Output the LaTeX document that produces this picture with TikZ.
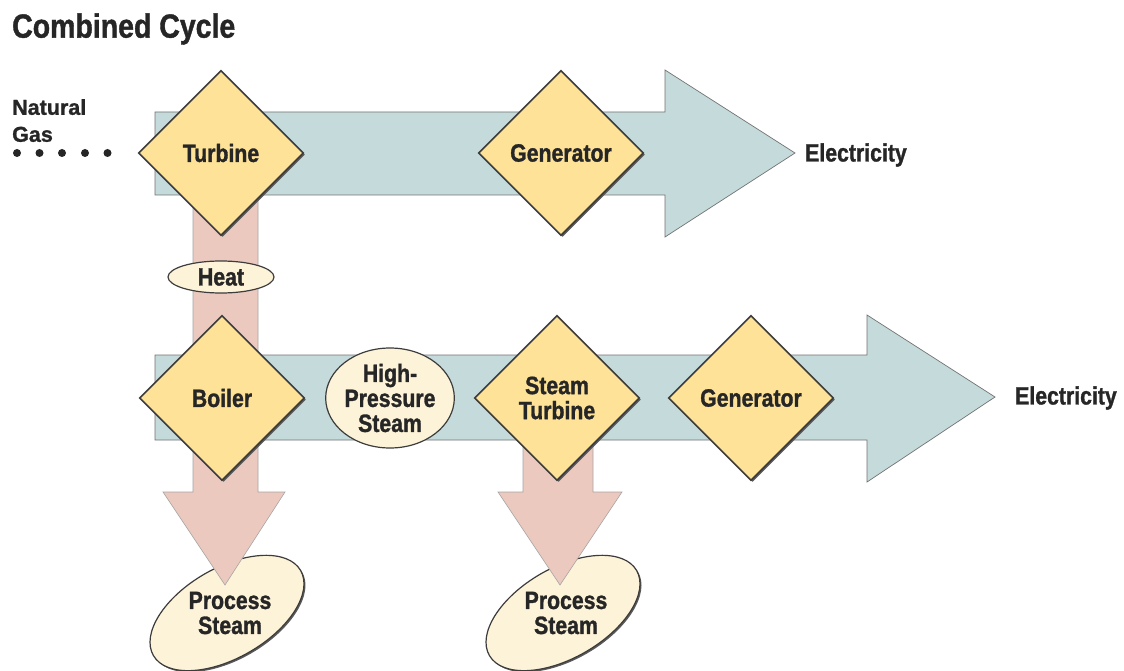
\documentclass[tikz,border=0pt]{standalone}
\usepackage{fontspec}
\setmainfont{Liberation Sans}[FakeStretch=0.85, BoldFeatures={FakeBold=1.2}]
\newfontfamily\gasfont{Liberation Sans}[FakeStretch=1.0, BoldFeatures={FakeBold=1.2}]
\usetikzlibrary{shapes.geometric,shadows}
\definecolor{steel}{RGB}{197,218,218}
\definecolor{salmon}{RGB}{236,201,190}
\definecolor{gold}{RGB}{253,226,152}
\definecolor{cream}{RGB}{253,243,216}
\definecolor{edge}{RGB}{60,60,60}
\begin{document}
\begin{tikzpicture}[x=1pt,y=-1pt,
  lab/.style={font=\bfseries\fontsize{25}{25}\selectfont, text=black!85, align=center},
  unit/.style={diamond, draw=edge, line width=1.6pt, fill=gold, minimum width=165pt, minimum height=165pt, inner sep=0pt, lab,
    drop shadow={shadow xshift=1.6pt, shadow yshift=-1.6pt, fill=black!65, opacity=1}},
  blob/.style={ellipse, draw=edge, line width=1.2pt, fill=cream, inner sep=0pt},
  bluearrow/.style={fill=steel, draw=black!55, line width=0.7pt, line join=miter},
  pinkarrow/.style={fill=salmon, draw=black!35, line width=0.6pt, line join=miter},
]
\useasboundingbox (0,0) rectangle (1124,671);
\fill[white] (0,0) rectangle (1124,671);

% title
\node[anchor=west, font=\bfseries\fontsize{33.5}{34}\selectfont, text=black!85, inner sep=0pt] (title) at (12,29) {Combined Cycle};

% process steam ellipses (under the pink arrows)
\node[blob, minimum width=170pt, minimum height=90pt, rotate=30,
  drop shadow={shadow xshift=1.5pt, shadow yshift=-1.5pt, fill=black!65, opacity=1}] (ps1) at (227,613) {};
\node[blob, minimum width=170pt, minimum height=90pt, rotate=30,
  drop shadow={shadow xshift=1.5pt, shadow yshift=-1.5pt, fill=black!65, opacity=1}] (ps2) at (563,613) {};

% pink heat / steam arrows
\path[pinkarrow] (193,153) -- (193,492) -- (163,492) -- (225,585) -- (285,492) -- (258,492) -- (258,153) -- cycle;
\path[pinkarrow] (523,397) -- (523,492) -- (498,492) -- (560,585) -- (622,492) -- (593,492) -- (593,397) -- cycle;

% blue power arrows
\path[bluearrow] (155,112) -- (665,112) -- (665,70) -- (795,153) -- (665,237) -- (665,195) -- (155,195) -- cycle;
\path[bluearrow] (155,355) -- (867,355) -- (867,315) -- (995,397) -- (867,482) -- (867,440) -- (155,440) -- cycle;

% diamonds
\node[unit] (turbine) at (221,153) {Turbine};
\node[unit] (gen1) at (561,153) {Generator};
\node[unit] (boiler) at (222,398) {Boiler};
\node[unit] (steamturb) at (557,398) {Steam\\Turbine};
\node[unit] (gen2) at (751,398) {Generator};

% ellipses on the flows
\node[blob, minimum width=106pt, minimum height=32pt, lab] (heat) at (221,277) {Heat};
\node[blob, minimum width=124pt, minimum height=100pt, lab] (hps) at (390,398) {High-\\Pressure\\Steam};

% process steam text
\node[lab, inner sep=0pt] (ps1t) at ([xshift=3pt]ps1.center) {Process\\Steam};
\node[lab, inner sep=0pt] (ps2t) at ([xshift=3pt]ps2.center) {Process\\Steam};

% labels
\node[anchor=north west, align=left, inner sep=0pt, font=\gasfont\bfseries\fontsize{21.5}{27}\selectfont, text=black!85] (gas) at (12,99) {Natural\\Gas};
\foreach \i/\x in {1/17,2/39.5,3/62,4/85,5/107.5}
  \fill[black!85] (\x,153) circle (4);
\node[anchor=west, lab, inner sep=0pt] (elec1) at (805,155) {Electricity};
\node[anchor=west, lab, inner sep=0pt] (elec2) at (1015,398) {Electricity};
\end{tikzpicture}
\end{document}
